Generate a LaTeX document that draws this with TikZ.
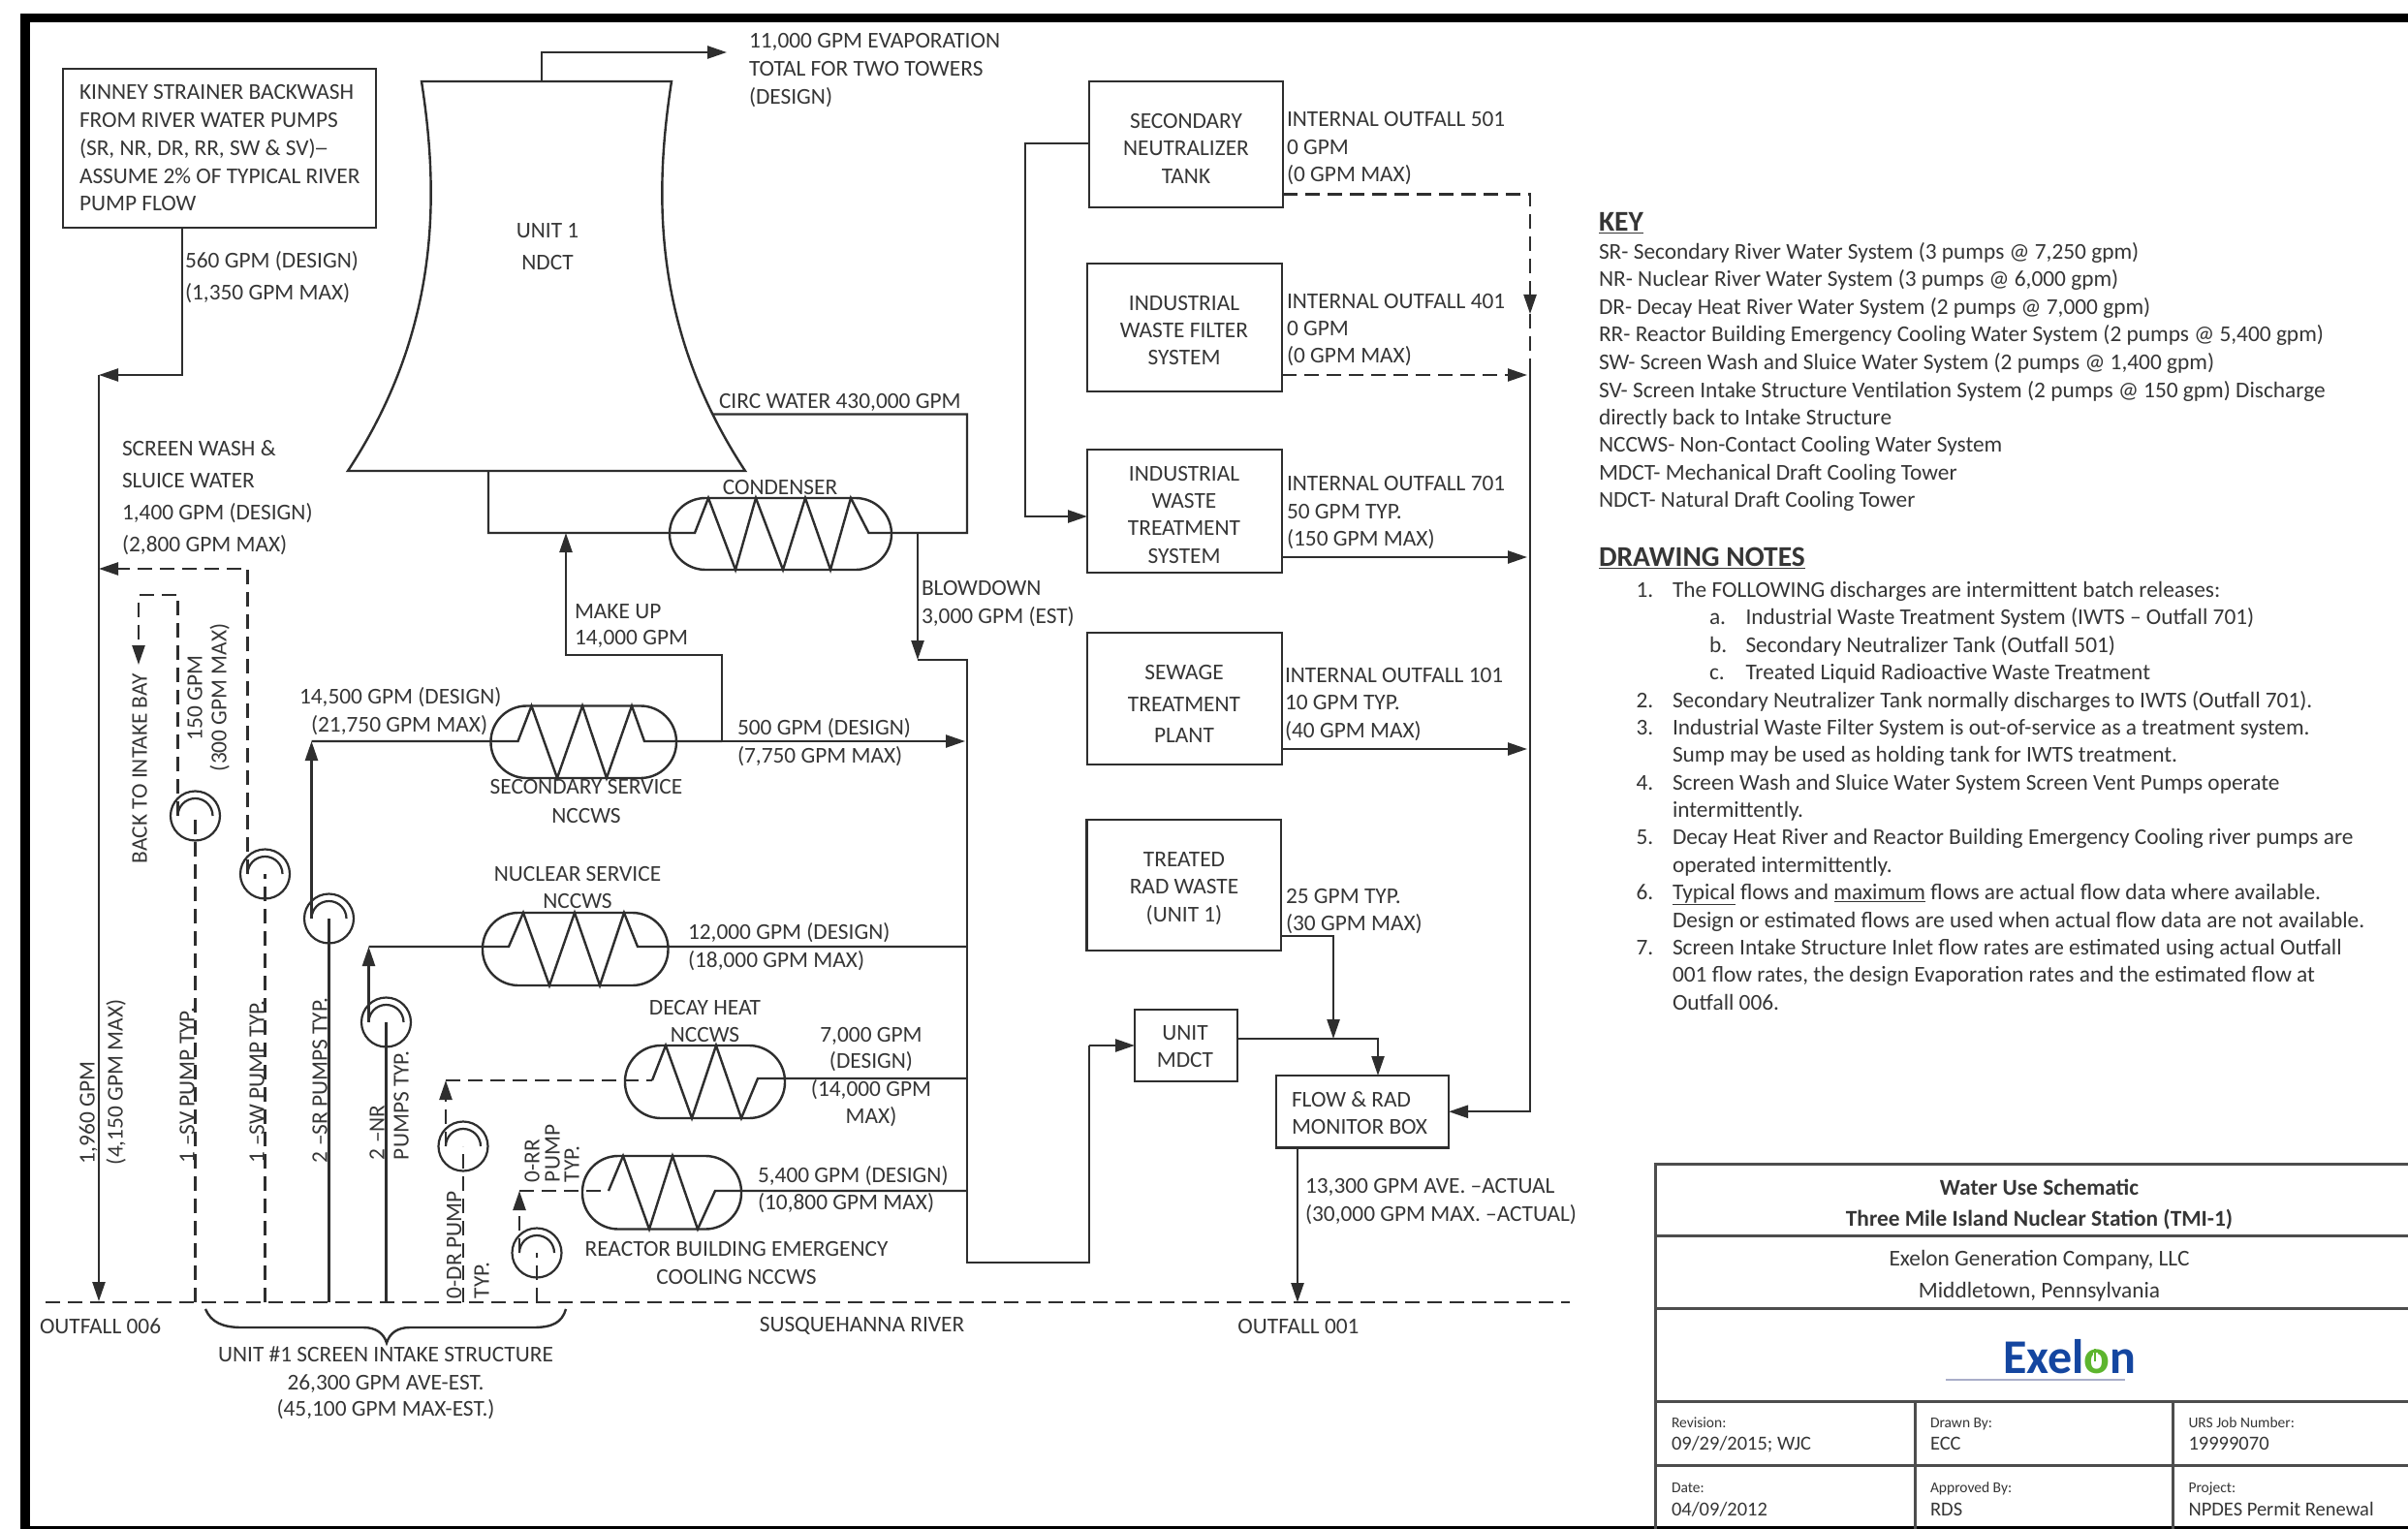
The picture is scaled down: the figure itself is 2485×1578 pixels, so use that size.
\documentclass[tikz,border=0pt]{standalone}
\usepackage{fontspec}
\setmainfont{Carlito}
\usetikzlibrary{arrows.meta,calc}
\definecolor{txt}{HTML}{363636}
\definecolor{ln}{HTML}{2E2E2E}
\definecolor{exblue}{HTML}{1446A0}
\definecolor{exgreen}{HTML}{5DB52E}
\definecolor{exline}{HTML}{A9AEC9}
\tikzset{
  flow/.style={draw=ln,line width=2.4pt},
  dflow/.style={draw=ln,line width=2.4pt,dash pattern=on 15pt off 8pt},
  arr/.style={-{Triangle[length=20pt,width=13pt]}},
  lbl/.style={text=txt,inner sep=0pt,outer sep=0pt,font=\fontsize{23.35}{28}\selectfont},
  small/.style={font=\fontsize{15.5}{18}\selectfont},
  cellv/.style={font=\fontsize{20.5}{24}\selectfont},
  headg/.style={font=\fontsize{29.5}{32}\selectfont\bfseries},
  titleb/.style={font=\fontsize{23.35}{28}\selectfont\bfseries},
  boxn/.style={draw=ln,line width=2.4pt,inner sep=0pt,outer sep=0pt},
  pumpn/.style={circle,draw=ln,line width=2.2pt,minimum size=51pt,inner sep=0pt,outer sep=0pt},
  tline/.style={draw=ln!85,line width=3pt},
}
\newcommand\lbL[5][]{\node[lbl,anchor=base west,#1] (#2) at (#3,{#4+7.5}) {#5};}
\newcommand\lbC[5][]{\node[lbl,anchor=base,#1] (#2) at (#3,{#4+7.5}) {#5};}
\newcommand\lbV[5][]{\node[lbl,anchor=base west,rotate=90,#1] (#2) at ({#3+7.5},#4) {#5};}
\newcommand\BX[5]{\node[boxn,minimum width={(#4-#2)*1pt},minimum height={(#5-#3)*1pt}] (#1) at ({(#2+#4)/2},{(#3+#5)/2}) {};}
\newcommand\HXN[5]{\node[boxn,rounded corners=37pt,minimum width={(#4-#2)*1pt},minimum height={(#5-#3)*1pt}] (#1) at ({(#2+#4)/2},{(#3+#5)/2}) {};}
\newcommand\PUMP[3]{\node[pumpn] (#1) at (#2,#3) {};
  \draw[draw=ln,line width=2.2pt] ([shift={(-18,0)}]#1.center) arc[start angle=180,end angle=360,radius=18];}
\begin{document}
\begin{tikzpicture}[x=1pt,y=-1pt]
\useasboundingbox (0,0) rectangle (2485,1578);
\fill[white] (0,0) rectangle (2485,1578);
% frame
\fill[black] (21,14) rectangle (31,1578);
\fill[black] (21,14) rectangle (2485,23);
\fill[black] (21,1575) rectangle (2485,1578);

% Kinney box
\BX{kin}{65}{71}{388}{235}
\lbL{k1}{82}{95.5}{KINNEY STRAINER BACKWASH}
\lbL{k2}{82}{124}{FROM RIVER WATER PUMPS}
\lbL{k3}{82}{153}{(SR, NR, DR, RR, SW \& SV)\kern-1pt\scalebox{0.65}[1]{—}}
\lbL{k4}{82}{182}{ASSUME 2\% OF TYPICAL RIVER}
\lbL{k5}{82}{210}{PUMP FLOW}
\lbL{k6}{191}{269}{560 GPM (DESIGN)}
\lbL{k7}{191}{302}{(1,350 GPM MAX)}

% Tower
\coordinate (twTL) at (435,84); \coordinate (twTR) at (693,84);
\coordinate (twBL) at (359,486); \coordinate (twBR) at (769,486);
\draw[flow,line join=miter] (twTL) -- (twTR) .. controls (675,200) and (673,340) .. (twBR) -- (twBL) .. controls (455,340) and (453,200) .. (twTL) -- cycle;
\lbC{u1}{565}{238}{UNIT 1}
\lbC{u2}{565}{271}{NDCT}
\coordinate (evapEnd) at (750,54);
\draw[flow,arr] (559,84) -- (559,54) -- (evapEnd);
\lbL{e1}{773}{42}{11,000 GPM EVAPORATION}
\lbL{e2}{773}{71}{TOTAL FOR TWO TOWERS}
\lbL{e3}{773}{100}{(DESIGN)}

% left collector
\coordinate (outA) at (102,1343);
\draw[flow,arr] (kin.south -| 188,0) -- (188,387) -- (102,387);
\draw[flow,arr] (102,387) -- (outA);
\lbV{v1}{90}{1201}{1,960 GPM}
\lbV{v2}{119}{1202}{(4,150 GPM MAX)}
\lbL{s1}{126}{463}{SCREEN WASH \&}
\lbL{s2}{126}{496}{SLUICE WATER}
\lbL{s3}{126}{529}{1,400 GPM (DESIGN)}
\lbL{s4}{126}{562}{(2,800 GPM MAX)}

% pumps
\PUMP{psv}{201.5}{842}
\PUMP{psw}{273.5}{902}
\PUMP{psr}{339.5}{948}
\PUMP{pnr}{398.5}{1055}
\PUMP{pdr}{478}{1183}
\PUMP{prr}{554}{1293}
\coordinate (rv1) at (201.5,1344); \coordinate (rv2) at (273.5,1344);
\coordinate (rv3) at (339.5,1344); \coordinate (rv4) at (398.5,1344);
\coordinate (rv5) at (478,1344); \coordinate (rv6) at (554,1344);
\draw[dflow] (rv1) -- (psv.center);
\draw[dflow] (rv2) -- (psw.center);
\draw[flow] (rv3) -- (psr.center);
\draw[flow] (rv4) -- (pnr.center);
\draw[dflow] (rv5) -- (pdr.center);
\draw[dflow] (rv6) -- (prr.center);
% pump discharges
\draw[dflow,arr] ([xshift=-18pt]psw.center) -- (255.5,587) -- (102,587);
\draw[dflow,arr] ([xshift=-18pt]psv.center) -- (183.5,614) -- (143,614) -- (143,686);
\draw[flow,arr] ([xshift=-18pt]psr.center) -- (321.5,765);
\draw[flow,arr] ([xshift=-18pt]pnr.center) -- (380.5,977);
\draw[dflow,arr] ([xshift=-18pt]pdr.center) -- (460,1115);
\draw[dflow,arr] ([xshift=-18pt]prr.center) -- (536,1229);

\lbV{b1}{144}{891}{BACK TO INTAKE BAY}
\lbV{b2}{201}{764}{150 GPM}
\lbV{b3}{226}{796}{(300 GPM MAX)}
\lbV{p1}{193}{1200}{1 –SV PUMP TYP.}
\lbV{p2}{265}{1200}{1 –SW PUMP TYP.}
\lbV{p3}{330}{1200}{2 –SR PUMPS TYP.}
\lbV{p4}{389}{1197}{2 –NR}
\lbV{p5}{414}{1197}{PUMPS TYP.}
\lbV{p6}{468.5}{1340}{0-DR PUMP}
\lbV{p7}{497}{1340}{TYP.}
\lbV{p8}{549}{1220}{0-RR}
\lbV{p9}{570}{1220}{PUMP}
\lbV{p10}{590}{1220}{TYP.}

% condenser
\HXN{hxc}{691}{514}{920}{588}
\draw[flow] (504,486) -- (504,550) -- (717,550) -- (731,514) -- (759,588) -- (780,514) -- (808,588) -- (831,514) -- (857,588) -- (878,514) -- (896.5,550) -- (998,550) -- (998,427.5) -- (735,427.5);
\lbC{c1}{805}{503}{CONDENSER}
\lbL{c2}{742}{414}{CIRC WATER 430,000 GPM}
% make up
\draw[flow,arr] (745,765) -- (745,676) -- (584,676) -- (584,550);
\lbL{m1}{593}{631}{MAKE UP}
\lbL{m2}{593}{658}{14,000 GPM}
% blowdown and collector
\coordinate (colTop) at (998,681);
\coordinate (colBot) at (998,1303);
\draw[flow,arr] (947,550) -- (947,681);
\draw[flow] (947,681) -- (colTop) -- (colBot) -- (1124,1303) -- (1124,1079);
\lbL{bd1}{951}{607}{BLOWDOWN}
\lbL{bd2}{951}{636}{3,000 GPM (EST)}

% secondary service
\HXN{hxs}{506.5}{728.5}{698}{803}
\draw[flow] (321.5,765) -- (534.5,765) -- (548.5,728.5) -- (575,803) -- (601,728.5) -- (626,803) -- (652,728.5) -- (665,765) -- (745,765);
\draw[flow,arr] (745,765) -- (996,765);
\lbL{h1}{309}{719}{14,500 GPM (DESIGN)}
\lbL{h2}{321}{748}{(21,750 GPM MAX)}
\lbL{h3}{761}{751}{500 GPM (DESIGN)}
\lbL{h4}{761}{780}{(7,750 GPM MAX)}
\lbC{h5}{605}{812}{SECONDARY SERVICE}
\lbC{h6}{605}{842}{NCCWS}

% nuclear service
\HXN{hxn}{498}{942}{689.5}{1017}
\draw[flow] (380.5,977) -- (525,977) -- (540,942) -- (567,1017) -- (593,942) -- (619,1017) -- (644,942) -- (658,977) -- (998,977);
\lbC{n1}{596}{902}{NUCLEAR SERVICE}
\lbC{n2}{596}{930}{NCCWS}
\lbL{n3}{710}{962}{12,000 GPM (DESIGN)}
\lbL{n4}{710}{991}{(18,000 GPM MAX)}

% decay heat
\HXN{hxd}{645}{1079}{810}{1154}
\draw[dflow] (460,1115) -- (673,1115);
\draw[flow] (673,1115) -- (687,1079) -- (714,1154) -- (739,1079) -- (765,1154) -- (782,1113) -- (998,1113);
\lbC{d1}{727.5}{1040}{DECAY HEAT}
\lbC{d2}{727.5}{1068}{NCCWS}
\lbC{d3}{899}{1067.5}{7,000 GPM}
\lbC{d4}{899}{1095}{(DESIGN)}
\lbC{d5}{899}{1124}{(14,000 GPM}
\lbC{d6}{899}{1152}{MAX)}

% reactor building
\HXN{hxr}{601}{1193}{765}{1268.5}
\draw[dflow] (536,1229) -- (628,1229);
\draw[flow] (628,1229) -- (643,1193) -- (670,1268.5) -- (694,1193) -- (720,1268.5) -- (738,1229) -- (998,1229);
\lbL{r1}{782}{1212.5}{5,400 GPM (DESIGN)}
\lbL{r2}{782}{1240.5}{(10,800 GPM MAX)}
\lbC{r3}{760}{1289}{REACTOR BUILDING EMERGENCY}
\lbC{r4}{760}{1318}{COOLING NCCWS}

% river
\coordinate (riverL) at (47,1344); \coordinate (riverR) at (1620,1344);
\draw[dflow] (riverL) -- (riverR);
\lbL{o1}{41}{1369}{OUTFALL 006}
\lbC{o2}{889.5}{1367}{SUSQUEHANNA RIVER}
\lbC{o3}{1340}{1369}{OUTFALL 001}
\draw[flow] (212,1351) .. controls (218,1365) and (230,1370) .. (250,1370) -- (375,1370) .. controls (388,1370) and (396,1376) .. (399,1386) .. controls (402,1376) and (410,1370) .. (423,1370) -- (550,1370) .. controls (570,1370) and (580,1365) .. (584,1351);
\lbC{i1}{398}{1398}{UNIT \#1 SCREEN INTAKE STRUCTURE}
\lbC{i2}{398}{1426.5}{26,300 GPM AVE-EST.}
\lbC{i3}{398}{1454}{(45,100 GPM MAX-EST.)}

% right boxes
\BX{sn}{1124}{84}{1324}{214}
\lbC{sn1}{1224}{125.5}{SECONDARY}
\lbC{sn2}{1224}{153.5}{NEUTRALIZER}
\lbC{sn3}{1224}{182}{TANK}
\BX{iwf}{1122}{272}{1323}{404}
\lbC{iwf1}{1222}{313}{INDUSTRIAL}
\lbC{iwf2}{1222}{341}{WASTE FILTER}
\lbC{iwf3}{1222}{369}{SYSTEM}
\BX{iwt}{1122}{464}{1323}{591}
\lbC{iwt1}{1222}{489}{INDUSTRIAL}
\lbC{iwt2}{1222}{517}{WASTE}
\lbC{iwt3}{1222}{545}{TREATMENT}
\lbC{iwt4}{1222}{574}{SYSTEM}
\BX{swg}{1122}{653}{1323}{789}
\lbC{swg1}{1222}{694}{SEWAGE}
\lbC{swg2}{1222}{727}{TREATMENT}
\lbC{swg3}{1222}{759}{PLANT}
\BX{trw}{1121.5}{846}{1322}{981}
\lbC{trw1}{1222}{887}{TREATED}
\lbC{trw2}{1222}{915}{RAD WASTE}
\lbC{trw3}{1222}{944}{(UNIT 1)}
\BX{mdct}{1171}{1042}{1277}{1116}
\lbC{md1}{1223}{1066}{UNIT}
\lbC{md2}{1223}{1094}{MDCT}
\BX{frb}{1317}{1110}{1495}{1184.5}
\lbL{fr1}{1333}{1135}{FLOW \& RAD}
\lbL{fr2}{1333}{1163}{MONITOR BOX}

% right connectors
\draw[flow,arr] (1124,1079) -- (mdct.west);
\draw[flow,arr] (sn.west |- 0,148) -- (1058,148) -- (1058,533) -- (iwt.west |- 0,533);
\coordinate (colR) at (1579,372);
\draw[dflow,arr] (sn.east |- 0,200.5) -- (1579,200.5) -- (1579,324);
\draw[dflow] (1579,324) -- (colR);
\draw[dflow,arr] (iwf.east |- 0,387) -- (1576,387);
\draw[flow,arr] (colR) -- (1579,1147.25) -- (frb.east);
\draw[flow,arr] (iwt.east |- 0,575) -- (1576,575);
\draw[flow,arr] (swg.east |- 0,773) -- (1576,773);
\draw[flow,arr] (trw.east |- 0,966) -- (1376,966) -- (1376,1072);
\draw[flow,arr] (mdct.east |- 0,1072) -- (1422,1072) -- (frb.north -| 1422,0);
\draw[flow,arr] (frb.south -| 1339,0) -- (1339,1344);

\lbL{f1}{1328}{123.5}{INTERNAL OUTFALL 501}
\lbL{f2}{1328}{152}{0 GPM}
\lbL{f3}{1328}{180}{(0 GPM MAX)}
\lbL{f4}{1328}{311}{INTERNAL OUTFALL 401}
\lbL{f5}{1328}{339}{0 GPM}
\lbL{f6}{1328}{367}{(0 GPM MAX)}
\lbL{f7}{1328}{499}{INTERNAL OUTFALL 701}
\lbL{f8}{1328}{527.5}{50 GPM TYP.}
\lbL{f9}{1328}{556}{(150 GPM MAX)}
\lbL{f10}{1326}{697}{INTERNAL OUTFALL 101}
\lbL{f11}{1326}{725}{10 GPM TYP.}
\lbL{f12}{1326}{754}{(40 GPM MAX)}
\lbL{f13}{1327}{925}{25 GPM TYP.}
\lbL{f14}{1327}{953}{(30 GPM MAX)}
\lbL{f15}{1347}{1224}{13,300 GPM AVE. –ACTUAL}
\lbL{f16}{1347}{1253}{(30,000 GPM MAX. –ACTUAL)}

% key
\lbL[headg]{ky}{1650}{231}{\underline{KEY}}
\lbL{ky1}{1650}{260}{SR- Secondary River Water System (3 pumps @ 7,250 gpm)}
\lbL{ky2}{1650}{288.5}{NR- Nuclear River Water System (3 pumps @ 6,000 gpm)}
\lbL{ky3}{1650}{317}{DR- Decay Heat River Water System (2 pumps @ 7,000 gpm)}
\lbL{ky4}{1650}{345.5}{RR- Reactor Building Emergency Cooling Water System (2 pumps @ 5,400 gpm)}
\lbL{ky5}{1650}{374}{SW- Screen Wash and Sluice Water System (2 pumps @ 1,400 gpm)}
\lbL{ky6}{1650}{402.5}{SV- Screen Intake Structure Ventilation System (2 pumps @ 150 gpm) Discharge}
\lbL{ky7}{1650}{431}{directly back to Intake Structure}
\lbL{ky8}{1650}{459}{NCCWS- Non-Contact Cooling Water System}
\lbL{ky9}{1650}{487.5}{MDCT- Mechanical Draft Cooling Tower}
\lbL{ky10}{1650}{516}{NDCT- Natural Draft Cooling Tower}
\lbL[headg]{dn}{1650}{577}{\underline{DRAWING NOTES}}
\lbL{n1n}{1688.5}{609}{1.}
\lbL{n1t}{1726}{609}{The FOLLOWING discharges are intermittent batch releases:}
\lbL{nan}{1764}{637}{a.}
\lbL{nat}{1801.5}{637}{Industrial Waste Treatment System (IWTS – Outfall 701)}
\lbL{nbn}{1764}{665.5}{b.}
\lbL{nbt}{1801.5}{665.5}{Secondary Neutralizer Tank (Outfall 501)}
\lbL{ncn}{1764}{694}{c.}
\lbL{nct}{1801.5}{694}{Treated Liquid Radioactive Waste Treatment}
\lbL{n2n}{1688.5}{722.5}{2.}
\lbL{n2t}{1726}{722.5}{Secondary Neutralizer Tank normally discharges to IWTS (Outfall 701).}
\lbL{n3n}{1688.5}{751}{3.}
\lbL{n3t}{1726}{751}{Industrial Waste Filter System is out-of-service as a treatment system.}
\lbL{n3u}{1726}{779}{Sump may be used as holding tank for IWTS treatment.}
\lbL{n4n}{1688.5}{807.5}{4.}
\lbL{n4t}{1726}{807.5}{Screen Wash and Sluice Water System Screen Vent Pumps operate}
\lbL{n4u}{1726}{836}{intermittently.}
\lbL{n5n}{1688.5}{864}{5.}
\lbL{n5t}{1726}{864}{Decay Heat River and Reactor Building Emergency Cooling river pumps are}
\lbL{n5u}{1726}{892.5}{operated intermittently.}
\lbL{n6n}{1688.5}{921}{6.}
\lbL{n6t}{1726}{921}{\underline{Typical} flows and \underline{maximum} flows are actual flow data where available.}
\lbL{n6u}{1726}{949.5}{Design or estimated flows are used when actual flow data are not available.}
\lbL{n7n}{1688.5}{978}{7.}
\lbL{n7t}{1726}{978}{Screen Intake Structure Inlet flow rates are estimated using actual Outfall}
\lbL{n7u}{1726}{1006}{001 flow rates, the design Evaporation rates and the estimated flow at}
\lbL{n7v}{1726}{1034.5}{Outfall 006.}

% title block
\draw[tline] (2485,1201.5) -- (1708,1201.5) -- (1708,1578);
\draw[tline] (1708,1275) -- (2485,1275);
\draw[tline] (1708,1350) -- (2485,1350);
\draw[tline] (1708,1446) -- (2485,1446);
\draw[tline] (1708,1512.5) -- (2485,1512.5);
\draw[tline] (1976,1446) -- (1976,1578);
\draw[tline] (2242,1446) -- (2242,1578);
\lbC[titleb]{t1}{2104.5}{1226}{Water Use Schematic}
\lbC[titleb]{t2}{2104.5}{1258}{Three Mile Island Nuclear Station (TMI-1)}
\lbC{t3}{2104.5}{1299}{Exelon Generation Company, LLC}
\lbC{t4}{2104.5}{1332}{Middletown, Pennsylvania}
\node[inner sep=0pt,anchor=base,font=\bfseries\fontsize{50}{50}\selectfont] (logo) at (2136,1417) {\textcolor{exblue}{Exel}\textcolor{exgreen}{o}\textcolor{exblue}{n}};
\draw[draw=white,line width=5pt] (2162,1396) -- (2162,1402);
\draw[draw=exgreen,line width=2.5pt] (2162,1392) -- (2162,1405);
\draw[draw=exline,line width=2.5pt] (2008,1424) -- (2193,1424);
\lbL[small]{c1a}{1725}{1466}{Revision:}
\lbL[cellv]{c1b}{1725}{1489}{09/29/2015; WJC}
\lbL[small]{c2a}{1992}{1466}{Drawn By:}
\lbL[cellv]{c2b}{1992}{1489}{ECC}
\lbL[small]{c3a}{2258.5}{1466}{URS Job Number:}
\lbL[cellv]{c3b}{2258.5}{1489}{19999070}
\lbL[small]{c4a}{1725}{1533}{Date:}
\lbL[cellv]{c4b}{1725}{1557}{04/09/2012}
\lbL[small]{c5a}{1992}{1533}{Approved By:}
\lbL[cellv]{c5b}{1992}{1557}{RDS}
\lbL[small]{c6a}{2258.5}{1533}{Project:}
\lbL[cellv]{c6b}{2258.5}{1557}{NPDES Permit Renewal}
\end{tikzpicture}
\end{document}
